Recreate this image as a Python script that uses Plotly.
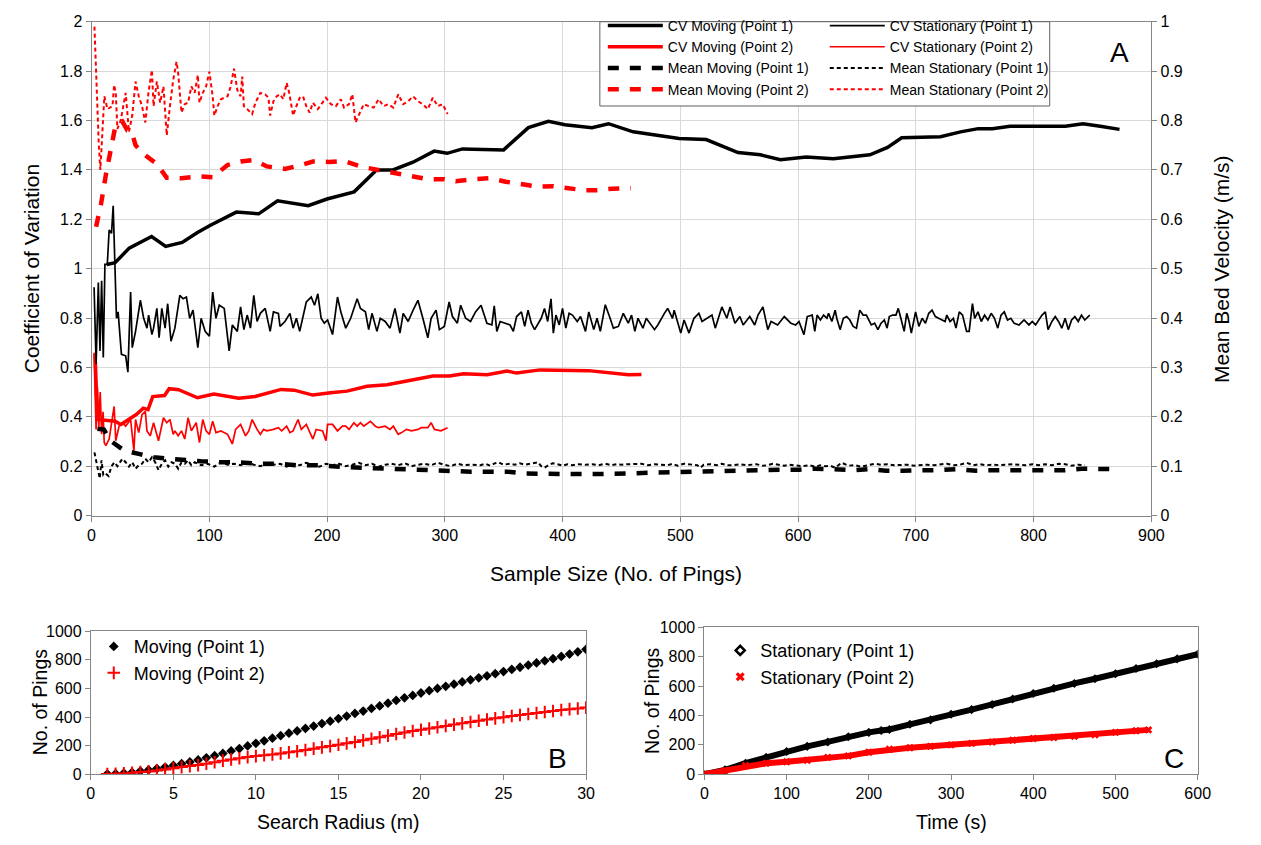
import plotly.graph_objects as go

W, H = 1261, 845

# ---------------- Panel A: CV (left axis) and mean bed velocity (right axis) vs sample size
# (sample size in pings, value)
CV_MOVING_P1 = [(13, 1.017), (20, 1.024), (32, 1.083), (51, 1.13), (63, 1.09), (77, 1.106), (90, 1.146),
                (101, 1.176), (123, 1.229), (142, 1.222), (158, 1.275), (184, 1.255), (200, 1.282),
                (223, 1.311), (242, 1.40), (256, 1.40), (273, 1.431), (291, 1.476), (302, 1.467),
                (315, 1.485), (350, 1.481), (371, 1.571), (388, 1.597), (402, 1.583), (425, 1.571),
                (439, 1.587), (460, 1.554), (499, 1.527), (522, 1.523), (549, 1.47), (568, 1.461),
                (585, 1.441), (607, 1.452), (630, 1.445), (661, 1.461), (676, 1.491), (688, 1.53),
                (721, 1.534), (738, 1.554), (753, 1.567), (765, 1.567), (780, 1.577), (827, 1.577),
                (842, 1.587), (858, 1.576), (873, 1.564)]

CV_MOVING_P2 = [(3, 0.66), (5, 0.389), (20, 0.382), (25, 0.369), (38, 0.409), (44, 0.435), (48, 0.429),
                (52, 0.482), (62, 0.486), (66, 0.514), (74, 0.510), (90, 0.477), (104, 0.492),
                (125, 0.475), (139, 0.482), (161, 0.511), (172, 0.508), (188, 0.488), (203, 0.497),
                (217, 0.504), (234, 0.524), (251, 0.530), (270, 0.547), (290, 0.565), (304, 0.565),
                (316, 0.574), (336, 0.570), (353, 0.585), (361, 0.577), (381, 0.590), (422, 0.587),
                (445, 0.574), (456, 0.570), (467, 0.571)]

CV_STATIONARY_P1 = [
    (2.2, 0.925), (3.9, 0.614), (5.8, 0.944), (7.2, 0.667), (8.6, 0.951), (10.0, 0.640), (11.4, 1.017),
    (13.4, 1.017), (15.0, 1.156), (17.0, 1.143), (18.4, 1.255), (19.8, 0.997), (21.2, 0.799),
    (22.6, 0.825), (24.0, 0.733), (25.4, 0.653), (29.0, 0.647), (30.9, 0.581),
    (33.2, 0.905), (34.6, 0.680), (37.4, 0.746), (41.5, 0.872), (44.3, 0.799), (47.1, 0.759),
    (48.5, 0.812), (51.3, 0.733), (52.7, 0.759), (55.5, 0.839), (57.4, 0.720), (59.7, 0.839),
    (62.5, 0.759), (64.7, 0.858), (67.5, 0.706), (70.8, 0.759), (75.0, 0.892), (77.8, 0.878),
    (80.6, 0.885), (83.4, 0.799), (86.2, 0.832), (90.3, 0.680), (93.1, 0.799), (96.5, 0.746),
    (100.1, 0.726), (102.9, 0.905), (105.7, 0.799), (108.5, 0.852), (112.7, 0.839), (116.9, 0.667),
    (119.6, 0.772), (123.8, 0.746), (126.6, 0.845), (129.4, 0.753), (132.2, 0.812), (135.0, 0.759),
    (137.8, 0.892), (140.6, 0.786), (143.4, 0.819), (147.5, 0.839), (151.7, 0.746), (154.5, 0.825),
    (158.7, 0.819), (160.1, 0.766), (164.3, 0.786), (168.5, 0.819), (171.2, 0.759), (174.0, 0.799),
    (176.8, 0.746), (182.4, 0.865), (186.6, 0.885), (189.4, 0.852), (192.2, 0.898), (195.0, 0.799),
    (197.7, 0.779), (200.5, 0.792), (204.7, 0.733), (208.9, 0.885), (211.7, 0.825), (215.9, 0.759),
    (220.1, 0.799), (225.6, 0.878), (228.4, 0.839), (232.6, 0.825), (235.4, 0.753), (238.2, 0.819),
    (242.4, 0.746), (245.2, 0.799), (249.4, 0.786), (253.5, 0.759), (257.7, 0.839), (261.9, 0.739),
    (264.7, 0.819), (268.9, 0.786), (273.1, 0.832), (277.2, 0.872), (281.4, 0.799), (285.6, 0.720),
    (288.4, 0.799), (292.6, 0.832), (295.4, 0.753), (299.6, 0.766), (303.7, 0.865), (306.5, 0.806),
    (310.7, 0.779), (313.5, 0.852), (317.7, 0.799), (321.9, 0.786), (326.1, 0.825),
    (330.8, 0.852), (335.8, 0.779), (340.0, 0.772), (342.0, 0.849), (344.2, 0.746), (347.0, 0.786),
    (355.4, 0.772), (358.2, 0.746), (361.0, 0.806), (365.1, 0.825), (367.9, 0.766), (370.7, 0.832),
    (373.5, 0.779), (376.3, 0.753), (381.9, 0.799), (384.7, 0.839), (387.4, 0.786), (390.2, 0.878),
    (392.2, 0.739), (394.4, 0.812), (397.2, 0.772), (400.0, 0.839), (402.8, 0.759), (405.6, 0.819),
    (408.4, 0.812), (412.5, 0.786), (415.3, 0.806), (419.5, 0.746), (422.3, 0.825), (426.5, 0.753),
    (429.3, 0.799), (432.1, 0.746), (436.3, 0.854), (440.4, 0.799), (443.2, 0.759), (447.4, 0.766),
    (451.6, 0.819), (455.8, 0.779), (458.6, 0.812), (461.4, 0.746), (464.1, 0.799), (468.3, 0.759),
    (471.1, 0.799), (478.1, 0.753), (480.9, 0.772), (486.5, 0.819), (489.3, 0.839), (493.4, 0.799),
    (494.8, 0.832), (500.4, 0.739), (503.2, 0.792), (507.4, 0.739), (511.6, 0.799), (515.8, 0.819),
    (518.5, 0.786), (526.9, 0.812), (529.7, 0.759), (535.3, 0.845), (539.5, 0.799), (542.3, 0.845),
    (546.4, 0.779), (550.6, 0.806), (553.4, 0.772), (559.0, 0.806), (563.2, 0.772), (566.0, 0.812),
    (570.2, 0.845), (574.3, 0.753), (577.1, 0.786), (582.7, 0.772), (588.3, 0.806), (593.9, 0.779),
    (598.0, 0.772), (600.8, 0.786), (605.0, 0.733), (607.8, 0.806), (612.0, 0.812),
    (614.2, 0.746), (616.2, 0.812), (619.0, 0.792), (621.7, 0.812), (624.5, 0.799), (625.9, 0.819),
    (628.7, 0.786), (631.5, 0.832), (632.9, 0.799), (635.7, 0.753), (638.5, 0.799), (641.3, 0.806),
    (644.0, 0.792), (646.8, 0.766), (649.6, 0.759), (652.4, 0.832), (655.2, 0.812), (658.0, 0.812),
    (662.2, 0.772), (665.0, 0.779), (667.8, 0.753), (670.5, 0.779), (673.3, 0.792), (675.6, 0.759),
    (677.5, 0.806), (680.3, 0.812), (683.1, 0.812), (685.1, 0.839), (687.3, 0.799), (690.1, 0.746),
    (692.3, 0.819), (694.3, 0.786), (696.2, 0.739), (699.8, 0.825), (702.6, 0.766), (705.4, 0.799),
    (708.2, 0.779), (711.0, 0.819), (713.8, 0.832), (716.6, 0.806), (719.4, 0.799), (722.2, 0.792),
    (724.9, 0.786), (726.3, 0.812), (729.1, 0.786), (731.9, 0.799), (734.1, 0.759), (736.9, 0.825),
    (739.7, 0.812), (743.1, 0.746), (745.3, 0.746), (748.1, 0.858), (750.0, 0.799), (752.8, 0.825),
    (755.6, 0.786), (758.4, 0.812), (761.2, 0.792), (764.0, 0.819), (766.8, 0.799), (769.6, 0.759),
    (772.4, 0.812), (775.1, 0.825), (777.9, 0.792), (780.7, 0.799), (783.5, 0.779), (787.7, 0.772),
    (791.9, 0.792), (796.1, 0.772), (798.9, 0.786), (801.7, 0.772), (804.4, 0.792), (807.2, 0.812),
    (810.0, 0.825), (812.3, 0.753), (815.6, 0.786), (818.4, 0.806), (821.2, 0.786), (824.0, 0.759),
    (826.8, 0.799), (829.5, 0.753), (832.3, 0.792), (835.1, 0.806), (837.9, 0.786), (840.7, 0.812),
    (843.5, 0.792), (847.7, 0.812)]

CV_STATIONARY_P2 = [
    (2.2, 0.653), (3.9, 0.349), (5.0, 0.52), (6.2, 0.36), (7.4, 0.50), (8.6, 0.33), (9.8, 0.42),
    (10.8, 0.296), (12.2, 0.283), (15.0, 0.310), (19.2, 0.442), (20.6, 0.303), (23.4, 0.362),
    (26.2, 0.376), (29.0, 0.362), (33.2, 0.389), (36.0, 0.263), (37.4, 0.389), (40.1, 0.336),
    (42.9, 0.409), (45.7, 0.422), (47.1, 0.343), (49.9, 0.323), (52.7, 0.376), (56.9, 0.303),
    (61.1, 0.396), (63.9, 0.376), (66.6, 0.389), (69.4, 0.329), (70.8, 0.343), (73.6, 0.323),
    (76.4, 0.343), (79.2, 0.310), (82.0, 0.396), (84.8, 0.343), (88.9, 0.376), (91.7, 0.296),
    (94.5, 0.389), (97.3, 0.343), (100.1, 0.329), (102.9, 0.382), (105.7, 0.336), (109.9, 0.343),
    (115.5, 0.329), (119.6, 0.290), (122.4, 0.349), (126.6, 0.369), (130.8, 0.323), (133.6, 0.343),
    (136.4, 0.389), (140.6, 0.349), (143.4, 0.329), (146.1, 0.349), (148.9, 0.343), (154.5, 0.349),
    (158.7, 0.356), (161.5, 0.343), (165.7, 0.362), (168.5, 0.336), (171.2, 0.343), (175.4, 0.389),
    (178.2, 0.349), (182.4, 0.369), (185.2, 0.336), (188.0, 0.310), (190.8, 0.349), (196.3, 0.343),
    (199.1, 0.303), (200.5, 0.369), (204.7, 0.369), (208.9, 0.343), (213.1, 0.362), (215.9, 0.362),
    (218.7, 0.349), (222.8, 0.376), (225.6, 0.362), (228.4, 0.376), (231.2, 0.362), (236.8, 0.382),
    (241.0, 0.362), (243.8, 0.356), (249.4, 0.362), (253.5, 0.349), (256.3, 0.362), (260.5, 0.329),
    (263.3, 0.336), (267.5, 0.349), (271.7, 0.343), (277.2, 0.349), (280.0, 0.356), (285.6, 0.356),
    (288.4, 0.376), (291.2, 0.349), (296.8, 0.343), (299.6, 0.349), (302.4, 0.356)]

MEAN_MOVING_P1 = [
    (5, 0.176), (10.5, 0.174), (16.4, 0.151), (27.6, 0.132), (40.1, 0.125), (52.7, 0.118), (66.6, 0.115),
    (79.2, 0.112), (93.1, 0.110), (109.9, 0.108), (123.8, 0.108), (140.6, 0.105), (157.3, 0.105),
    (174.0, 0.102), (193.6, 0.102), (215.9, 0.098), (235.4, 0.096), (248.0, 0.095), (261.9, 0.094),
    (277.2, 0.092), (291.2, 0.090), (306.5, 0.089), (321.9, 0.089), (337.2, 0.089), (352.6, 0.089),
    (369.3, 0.085), (384.7, 0.084), (400.0, 0.084), (415.3, 0.084), (429.3, 0.084), (444.6, 0.085),
    (460.0, 0.087), (476.7, 0.087), (493.4, 0.087), (508.8, 0.089), (524.1, 0.089), (538.1, 0.090),
    (553.4, 0.091), (568.7, 0.092), (584.1, 0.093), (600.8, 0.093), (614.8, 0.095), (630.1, 0.094),
    (646.8, 0.092), (659.4, 0.094), (674.7, 0.091), (688.7, 0.091), (704.0, 0.091), (719.4, 0.092),
    (734.7, 0.094), (751.4, 0.091), (765.4, 0.092), (779.3, 0.091), (794.7, 0.092), (810.0, 0.092),
    (826.8, 0.092), (840.7, 0.095), (856.0, 0.094), (871.4, 0.094)]

MEAN_MOVING_P2 = [
    (3.9, 0.585), (8.1, 0.631), (12.2, 0.690), (16.4, 0.743), (19.8, 0.783), (22.0, 0.793), (26.2, 0.798),
    (30.4, 0.780), (34.0, 0.778), (37.4, 0.750), (44.3, 0.732), (55.5, 0.712), (63.9, 0.684),
    (76.4, 0.683), (90.3, 0.687), (102.9, 0.685), (115.5, 0.710), (126.6, 0.717), (137.8, 0.720),
    (148.9, 0.707), (164.3, 0.702), (176.8, 0.709), (188.0, 0.717), (201.9, 0.716), (214.5, 0.718),
    (229.8, 0.706), (243.8, 0.700), (256.3, 0.694), (271.7, 0.689), (285.6, 0.681), (299.6, 0.681),
    (309.3, 0.677), (322.8, 0.681), (338.2, 0.683), (351.7, 0.676), (365.3, 0.672), (378.8, 0.666),
    (392.3, 0.667), (403.9, 0.664), (417.4, 0.659), (429.0, 0.659), (442.5, 0.662), (458.0, 0.663)]

MEAN_STATIONARY_P1 = [
    (2.5, 0.128), (4.0, 0.109), (5.5, 0.089), (7.0, 0.075), (8.5, 0.112), (10.0, 0.082), (12.0, 0.085),
    (14.5, 0.080), (17.0, 0.100), (19.5, 0.108), (22.0, 0.100), (24.0, 0.108),
    (26.2, 0.115), (29.0, 0.108), (31.8, 0.099), (34.6, 0.108), (37.4, 0.095), (40.1, 0.102),
    (42.9, 0.105), (45.7, 0.115), (48.5, 0.108), (51.3, 0.118), (54.1, 0.108), (56.9, 0.092),
    (59.7, 0.105), (62.5, 0.112), (65.2, 0.099), (68.0, 0.108), (70.8, 0.105), (73.6, 0.095),
    (76.4, 0.108), (79.2, 0.105), (82.0, 0.112), (84.8, 0.102), (87.6, 0.108), (93.1, 0.102),
    (98.7, 0.105), (104.3, 0.099), (109.9, 0.108), (115.5, 0.103), (121.0, 0.105), (126.6, 0.102),
    (132.2, 0.108), (137.8, 0.103), (143.4, 0.100), (148.9, 0.106), (154.5, 0.103), (160.1, 0.105),
    (165.7, 0.099), (171.2, 0.105), (176.8, 0.102), (182.4, 0.107), (188.0, 0.103), (193.6, 0.099),
    (199.1, 0.105), (204.7, 0.102), (210.3, 0.105), (215.9, 0.100), (221.5, 0.103), (227.0, 0.107),
    (232.6, 0.102), (238.2, 0.105), (243.8, 0.099), (249.4, 0.103), (254.9, 0.105), (260.5, 0.102),
    (266.1, 0.106), (271.7, 0.100), (277.2, 0.103), (282.8, 0.105), (288.4, 0.102), (294.0, 0.107),
    (299.6, 0.103), (305.1, 0.100), (310.7, 0.105), (316.3, 0.102), (321.9, 0.103),
    (324.7, 0.103), (330.3, 0.102), (334.4, 0.105), (338.6, 0.101), (342.8, 0.106), (345.6, 0.108),
    (349.8, 0.103), (355.4, 0.105), (359.5, 0.103), (363.7, 0.106), (367.9, 0.103), (373.5, 0.105),
    (379.1, 0.108), (381.9, 0.100), (384.7, 0.097), (388.8, 0.103), (391.6, 0.106), (395.8, 0.104),
    (400.0, 0.101), (404.2, 0.104), (408.4, 0.102), (413.9, 0.104), (419.5, 0.103), (425.1, 0.104),
    (430.7, 0.102), (436.3, 0.105), (441.8, 0.102), (446.0, 0.104), (450.2, 0.103), (455.8, 0.104),
    (461.4, 0.104), (466.9, 0.105), (472.5, 0.102), (478.1, 0.104), (483.7, 0.103), (489.3, 0.102),
    (493.4, 0.105), (497.6, 0.101), (503.2, 0.105), (508.8, 0.104), (514.4, 0.102), (517.2, 0.097),
    (519.9, 0.103), (525.5, 0.104), (531.1, 0.102), (535.3, 0.105), (539.5, 0.102), (545.0, 0.102),
    (550.6, 0.104), (556.2, 0.102), (561.8, 0.103), (564.6, 0.104), (570.2, 0.101), (574.3, 0.102),
    (578.5, 0.105), (584.1, 0.103), (588.3, 0.101), (592.5, 0.103), (598.0, 0.102), (603.6, 0.100),
    (609.2, 0.102), (614.8, 0.099), (618.9, 0.102), (623.1, 0.100), (627.3, 0.101), (631.5, 0.097),
    (637.1, 0.107), (642.7, 0.101), (648.2, 0.102), (653.8, 0.099), (659.4, 0.102), (665.0, 0.105),
    (670.5, 0.103), (676.1, 0.104), (681.7, 0.102), (687.3, 0.102), (692.9, 0.103), (698.4, 0.101),
    (704.0, 0.102), (709.6, 0.103), (715.2, 0.102), (720.8, 0.103), (726.3, 0.105), (731.9, 0.102),
    (737.5, 0.103), (743.1, 0.107), (748.6, 0.102), (754.2, 0.104), (759.8, 0.102), (765.4, 0.103),
    (771.0, 0.102), (776.5, 0.103), (782.1, 0.104), (787.7, 0.103), (793.3, 0.102), (798.9, 0.104),
    (804.4, 0.102), (810.0, 0.104), (815.6, 0.102), (821.2, 0.105), (826.8, 0.104), (832.3, 0.101),
    (837.9, 0.103), (843.5, 0.102)]

MEAN_STATIONARY_P2 = [
    (2.5, 0.99), (3.8, 0.90), (5.0, 0.82), (6.2, 0.75), (7.5, 0.70), (9.0, 0.76), (10.9, 0.849),
    (13.6, 0.823), (17.8, 0.829), (19.2, 0.872), (20.6, 0.856), (22.0, 0.783), (24.8, 0.800),
    (29.0, 0.856), (31.8, 0.777), (34.6, 0.810), (37.4, 0.879), (40.1, 0.849), (42.9, 0.829),
    (45.7, 0.796), (48.5, 0.859), (51.3, 0.902), (52.7, 0.829), (55.5, 0.879), (58.3, 0.836),
    (61.1, 0.869), (63.9, 0.770), (66.6, 0.829), (69.4, 0.882), (72.2, 0.919), (73.6, 0.896),
    (75.0, 0.856), (76.4, 0.816), (79.2, 0.833), (82.0, 0.836), (84.8, 0.869), (87.6, 0.856),
    (90.3, 0.892), (91.7, 0.836), (94.5, 0.856), (97.3, 0.869), (100.1, 0.899), (102.9, 0.849),
    (104.3, 0.810), (107.1, 0.829), (109.9, 0.843), (112.7, 0.846), (115.5, 0.849), (118.2, 0.869),
    (121.0, 0.905), (123.8, 0.862), (126.6, 0.849), (128.0, 0.889), (129.4, 0.829), (132.2, 0.823),
    (136.4, 0.813), (139.2, 0.836), (143.4, 0.856), (147.5, 0.853), (150.3, 0.846), (151.7, 0.810),
    (154.5, 0.839), (157.3, 0.849), (160.1, 0.853), (162.9, 0.843), (165.7, 0.876), (167.9, 0.856),
    (169.8, 0.829), (171.2, 0.810), (174.0, 0.829), (176.8, 0.846), (179.6, 0.849), (182.4, 0.829),
    (185.2, 0.816), (188.0, 0.836), (192.2, 0.823), (195.0, 0.833), (199.1, 0.846), (203.3, 0.833),
    (207.5, 0.829), (211.7, 0.843), (214.5, 0.826), (218.7, 0.833), (221.5, 0.853), (224.2, 0.796),
    (227.0, 0.810), (231.2, 0.833), (235.4, 0.829), (239.6, 0.826), (243.8, 0.843), (248.0, 0.829),
    (252.1, 0.833), (256.3, 0.826), (260.5, 0.853), (264.7, 0.833), (268.9, 0.839), (273.1, 0.849),
    (277.2, 0.839), (281.4, 0.833), (285.6, 0.823), (289.8, 0.846), (294.0, 0.829), (298.2, 0.833),
    (302.4, 0.813)]

# ---------------- Panel B: pings vs search radius (moving boat)
SEARCH_RADIUS = [1, 1.5, 2, 2.5, 3, 3.5, 4, 4.5, 5, 5.5, 6, 6.5, 7, 7.5, 8, 8.5, 9, 9.5, 10, 10.5,
                 11, 11.5, 12, 12.5, 13, 13.5, 14, 14.5, 15, 15.5, 16, 16.5, 17, 17.5, 18, 18.5, 19,
                 19.5, 20, 20.5, 21, 21.5, 22, 22.5, 23, 23.5, 24, 24.5, 25, 25.5, 26, 26.5, 27, 27.5,
                 28, 28.5, 29, 29.5, 30]
PINGS_MOVING_P1 = [2, 4, 8, 14, 22, 30, 40, 50, 62, 74, 86, 100, 115, 130, 146, 163, 180, 198, 216,
                   234, 252, 270, 287, 303, 320, 337, 354, 371, 389, 407, 425, 442, 460, 478, 497,
                   516, 534, 551, 568, 584, 600, 615, 630, 645, 660, 674, 688, 703, 718, 733, 748,
                   763, 778, 793, 808, 824, 840, 856, 873]
PINGS_MOVING_P2 = [1, 3, 6, 10, 15, 20, 27, 34, 42, 50, 57, 64, 73, 84, 95, 104, 112, 120, 127, 133,
                   139, 146, 153, 161, 170, 179, 188, 197, 206, 216, 226, 237, 248, 259, 270, 281,
                   292, 302, 311, 320, 329, 338, 347, 356, 365, 374, 383, 391, 399, 407, 414, 421,
                   428, 435, 442, 449, 455, 460, 466]

# ---------------- Panel C: pings vs time (stationary boat)
TIME_P1 = [0, 25, 50, 75, 100, 125, 150, 175, 200, 215, 225, 250, 275, 300, 325, 350, 375, 400, 425,
           450, 475, 500, 525, 550, 575, 600]
PINGS_STATIONARY_P1 = [0, 30, 75, 115, 155, 190, 220, 255, 285, 298, 305, 340, 370, 408, 440, 475,
                       512, 550, 585, 618, 650, 684, 720, 752, 785, 817]
TIME_P2 = [0, 25, 50, 75, 100, 125, 150, 175, 200, 225, 250, 275, 300, 325, 350, 375, 400, 425, 450,
           475, 500, 525, 540]
PINGS_STATIONARY_P2 = [0, 25, 60, 75, 85, 95, 115, 125, 150, 170, 180, 190, 200, 210, 220, 232, 243,
                       250, 258, 268, 285, 296, 302]

RED = "#ff0000"
BLACK = "#000000"
AXIS_GREY = "#868686"
GRID_GREY = "#d9d9d9"
FONT = "Liberation Sans, Arial, sans-serif"


def cols(pairs):
    return [p[0] for p in pairs], [p[1] for p in pairs]


def px(x):
    return x / W


def py(y):
    return 1 - y / H


fig = go.Figure()

# left-axis CV lines
for name, data, color, width, leg in [
    ("CV Moving (Point 1)", CV_MOVING_P1, BLACK, 3.5, "legend"),
    ("CV Moving (Point 2)", CV_MOVING_P2, RED, 3.5, "legend"),
    ("CV Stationary (Point 1)", CV_STATIONARY_P1, BLACK, 1.7, "legend2"),
    ("CV Stationary (Point 2)", CV_STATIONARY_P2, RED, 1.7, "legend2"),
]:
    xs, ys = cols(data)
    fig.add_trace(go.Scatter(x=xs, y=ys, mode="lines", name=name, legend=leg,
                             line=dict(color=color, width=width), xaxis="x", yaxis="y"))

# right-axis mean velocity lines
for name, data, color, width, dash, leg in [
    ("Mean Moving (Point 1)", MEAN_MOVING_P1, BLACK, 4.5, "11px,11px", "legend"),
    ("Mean Moving (Point 2)", MEAN_MOVING_P2, RED, 4.5, "11px,11px", "legend"),
    ("Mean Stationary (Point 1)", MEAN_STATIONARY_P1, BLACK, 2, "4px,3px", "legend2"),
    ("Mean Stationary (Point 2)", MEAN_STATIONARY_P2, RED, 2, "4px,3px", "legend2"),
]:
    xs, ys = cols(data)
    fig.add_trace(go.Scatter(x=xs, y=ys, mode="lines", name=name, legend=leg,
                             line=dict(color=color, width=width, dash=dash), xaxis="x", yaxis="y2"))

# Panel B scatter
fig.add_trace(go.Scatter(x=SEARCH_RADIUS, y=PINGS_MOVING_P1, mode="markers", name="Moving (Point 1)",
                         legend="legend3", xaxis="x2", yaxis="y3",
                         marker=dict(symbol="diamond", size=7.5, color=BLACK)))
fig.add_trace(go.Scatter(x=SEARCH_RADIUS, y=PINGS_MOVING_P2, mode="markers", name="Moving (Point 2)",
                         legend="legend3", xaxis="x2", yaxis="y3",
                         marker=dict(symbol="cross-thin", size=9, color=RED,
                                     line=dict(color=RED, width=2))))

# Panel C: dense ping records drawn as a continuous band of markers
fig.add_trace(go.Scatter(x=TIME_P1, y=PINGS_STATIONARY_P1, mode="lines+markers", showlegend=False,
                         xaxis="x3", yaxis="y4", line=dict(color=BLACK, width=6),
                         marker=dict(symbol="diamond", size=7, color=BLACK)))
fig.add_trace(go.Scatter(x=TIME_P2, y=PINGS_STATIONARY_P2, mode="lines+markers", showlegend=False,
                         xaxis="x3", yaxis="y4", line=dict(color=RED, width=6),
                         marker=dict(symbol="x", size=7, color=RED)))
fig.add_trace(go.Scatter(x=[None], y=[None], mode="markers", name="Stationary (Point 1)",
                         legend="legend4", xaxis="x3", yaxis="y4",
                         marker=dict(symbol="diamond-open", size=7, color=BLACK,
                                     line=dict(color=BLACK, width=2.5))))
fig.add_trace(go.Scatter(x=[None], y=[None], mode="markers", name="Stationary (Point 2)",
                         legend="legend4", xaxis="x3", yaxis="y4",
                         marker=dict(symbol="x", size=8, color=RED)))

tickfont = dict(family=FONT, size=16, color=BLACK)
common_axis = dict(showline=True, linecolor=AXIS_GREY, linewidth=1, ticks="outside", ticklen=5,
                   tickcolor=AXIS_GREY, tickfont=tickfont, zeroline=False, fixedrange=True)

A_LEFT, A_RIGHT, A_TOP, A_BOTTOM = 88.7, 1163, 14, 518

fig.update_layout(
    width=W, height=H, margin=dict(l=0, r=0, t=0, b=0),
    paper_bgcolor="white", plot_bgcolor="white",
    font=dict(family=FONT, color=BLACK),
    xaxis=dict(domain=[px(A_LEFT), px(A_RIGHT)], range=[0, 900], dtick=100, anchor="y",
               showgrid=True, gridcolor=GRID_GREY, mirror=True, **common_axis),
    yaxis=dict(domain=[py(A_BOTTOM), py(A_TOP)], range=[0, 2], dtick=0.2, anchor="x",
               showgrid=True, gridcolor=GRID_GREY, mirror=True, **common_axis),
    yaxis2=dict(overlaying="y", side="right", range=[0, 1], dtick=0.1, anchor="x",
                showgrid=False, **common_axis),
    xaxis2=dict(domain=[px(88), px(590)], range=[0, 30], dtick=5, anchor="y3",
                showgrid=False, mirror=True, **common_axis),
    yaxis3=dict(domain=[py(782), py(636)], range=[0, 1000], dtick=200, anchor="x2",
                showgrid=False, mirror=True, **common_axis),
    xaxis3=dict(domain=[px(710), px(1210)], range=[0, 600], dtick=100, anchor="y4",
                showgrid=False, mirror=True, **common_axis),
    yaxis4=dict(domain=[py(782), py(632)], range=[0, 1000], dtick=200, anchor="x3",
                showgrid=False, mirror=True, **common_axis),
    legend=dict(x=px(607), y=py(2), xanchor="left", yanchor="top", bgcolor="rgba(0,0,0,0)",
                font=dict(family=FONT, size=14), itemwidth=55, tracegroupgap=0,
                traceorder="normal"),
    legend2=dict(x=px(832), y=py(2), xanchor="left", yanchor="top", bgcolor="rgba(0,0,0,0)",
                 font=dict(family=FONT, size=14), itemwidth=55, tracegroupgap=0,
                 traceorder="normal"),
    legend3=dict(x=px(91), y=py(633), xanchor="left", yanchor="top", bgcolor="rgba(0,0,0,0)",
                 font=dict(family=FONT, size=18), itemwidth=30),
    legend4=dict(x=px(726), y=py(637), xanchor="left", yanchor="top", bgcolor="rgba(0,0,0,0)",
                 font=dict(family=FONT, size=18), itemwidth=30),
    showlegend=True,
)

# white legend box for panel A
fig.add_shape(type="rect", xref="paper", yref="paper", x0=px(604), x1=px(1060), y0=py(100),
              y1=py(A_TOP), line=dict(color="#606060", width=1), fillcolor="white", layer="above")

title_font = dict(family=FONT, size=21, color=BLACK)
small_title = dict(family=FONT, size=19.5, color=BLACK)
annotations = [
    dict(text="Coefficient of Variation", x=px(28), y=py(266), textangle=-90, font=title_font),
    dict(text="Mean Bed Velocity (m/s)", x=px(1234), y=py(266), textangle=-90, font=title_font),
    dict(text="Sample Size (No. of Pings)", x=px(620), y=py(577), font=title_font),
    dict(text="A", x=px(1131), y=py(45), font=dict(family=FONT, size=28, color=BLACK)),
    dict(text="No. of Pings", x=px(36), y=py(709), textangle=-90, font=small_title),
    dict(text="No. of Pings", x=px(657), y=py(707), textangle=-90, font=small_title),
    dict(text="Search Radius (m)", x=px(339), y=py(831), font=small_title),
    dict(text="Time (s)", x=px(960), y=py(831), font=small_title),
    dict(text="B", x=px(561), y=py(766), font=dict(family=FONT, size=28, color=BLACK)),
    dict(text="C", x=px(1186), y=py(766), font=dict(family=FONT, size=28, color=BLACK)),
]
for a in annotations:
    a.update(xref="paper", yref="paper", showarrow=False, xanchor="center", yanchor="middle")
fig.update_layout(annotations=annotations)

fig.write_html("out.html")
